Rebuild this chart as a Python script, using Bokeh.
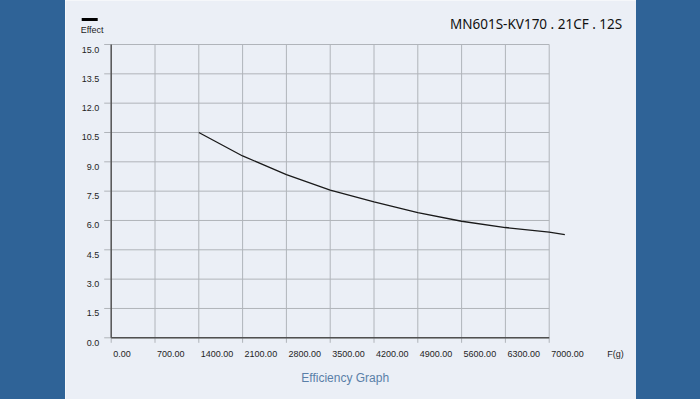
from bokeh.plotting import figure
from bokeh.models import Range1d, Div
from bokeh.layouts import row
from bokeh.embed import file_html
from bokeh.resources import INLINE
from bokeh.core.properties import value

# ---------------- data ----------------
chart_title = "MN601S-KV170 . 21CF . 12S"
y_name = "Effect"
x_name = "F(g)"
caption = "Efficiency Graph"

x_ticks = [0, 700, 1400, 2100, 2800, 3500, 4200, 4900, 5600, 6300, 7000]
x_tick_labels = ["0.00", "700.00", "1400.00", "2100.00", "2800.00", "3500.00",
                 "4200.00", "4900.00", "5600.00", "6300.00", "7000.00"]
y_ticks = [0, 1.5, 3.0, 4.5, 6.0, 7.5, 9.0, 10.5, 12.0, 13.5, 15.0]
y_tick_labels = ["0.0", "1.5", "3.0", "4.5", "6.0", "7.5", "9.0", "10.5",
                 "12.0", "13.5", "15.0"]

thrust = [1400, 2100, 2800, 3500, 4200, 4900, 5600, 6300, 7000, 7250]
effect = [10.50, 9.30, 8.35, 7.55, 6.95, 6.40, 5.96, 5.64, 5.40, 5.28]

# ---------------- layout / style ----------------
BLUE = "#2f6397"
LIGHT = "#ebeff6"
GRID = "#b0b4ba"
AXIS = "#505050"
TXT = "#1e1e1e"
TICK_FONT = value("'Liberation Sans Narrow', 'Liberation Sans', Arial, sans-serif")
TICK_SIZE = "9px"

W, H = 571, 399            # plot panel (between the blue side strips)
LEFT_STRIP, RIGHT_STRIP = 65, 64
X0_PX, Y0_PX = 45.7, 337.3  # pixel position of the data origin in the panel
XSCALE = 43.8 / 700         # px per unit of F(g)
YSCALE = 29.33 / 1.5        # px per unit of Effect
TICK_X = 7 / XSCALE         # left tick length in data units
TICK_Y = 5 / YSCALE         # bottom tick length in data units

x_range = Range1d(-X0_PX / XSCALE, (W - X0_PX) / XSCALE)
y_range = Range1d(-(H - Y0_PX) / YSCALE, Y0_PX / YSCALE)

p = figure(width=W, height=H, x_range=x_range, y_range=y_range,
           output_backend="svg", toolbar_location=None,
           x_axis_location=None, y_axis_location=None,
           min_border=0)
p.background_fill_color = LIGHT
p.border_fill_color = LIGHT
p.outline_line_color = None
p.grid.visible = False

xmin, xmax = x_ticks[0], x_ticks[-1]
ymin, ymax = y_ticks[0], y_ticks[-1]

# grid lines + tick extensions
p.segment(x0=x_ticks, y0=[ymin - TICK_Y] * len(x_ticks),
          x1=x_ticks, y1=[ymax] * len(x_ticks),
          line_color=GRID, line_width=1)
p.segment(x0=[xmin - TICK_X] * len(y_ticks), y0=y_ticks,
          x1=[xmax] * len(y_ticks), y1=y_ticks,
          line_color=GRID, line_width=1)
# axis lines
p.segment(x0=[xmin, xmin], y0=[ymin, ymin], x1=[xmin, xmax], y1=[ymax, ymin],
          line_color=AXIS, line_width=1.4)

# curve
p.line(thrust, effect, line_color="#1a1a1a", line_width=1.3)

# tick labels
p.text(x=x_ticks, y=[ymin] * len(x_ticks), text=x_tick_labels,
       text_align="left", text_baseline="middle", x_offset=2, y_offset=16,
       text_font=TICK_FONT, text_font_size=TICK_SIZE, text_color=TXT)
p.text(x=[xmin] * len(y_ticks), y=y_ticks, text=y_tick_labels,
       text_align="right", text_baseline="middle", x_offset=-12, y_offset=5,
       text_font=TICK_FONT, text_font_size=TICK_SIZE, text_color=TXT)
p.text(x=[xmax], y=[ymin], text=[x_name], text_align="left",
       text_baseline="middle", x_offset=58, y_offset=16,
       text_font=TICK_FONT, text_font_size=TICK_SIZE, text_color=TXT)
p.text(x=[xmin], y=[ymax], text=[y_name], text_align="center",
       text_baseline="middle", x_offset=-19, y_offset=-15,
       text_font=TICK_FONT, text_font_size=TICK_SIZE, text_color=TXT)
# legend key (short black dash above "Effect")
p.rect(x=[xmin - 21.5 / XSCALE], y=[ymax + 25 / YSCALE], width=16, height=3,
       width_units="screen", height_units="screen",
       fill_color="black", line_color=None)

# title and caption
p.text(x=[xmax], y=[ymax], text=[chart_title], text_align="right",
       text_baseline="middle", x_offset=73, y_offset=-21,
       text_font=value("Noto Sans"), text_font_size="13.5px", text_color="#111111")
p.text(x=[x_ticks[5]], y=[ymin], text=[caption], text_align="center",
       text_baseline="middle", x_offset=15, y_offset=40,
       text_font=value("Liberation Sans"), text_font_size="12px",
       text_color="#5a7fa8")

left = Div(text="", width=LEFT_STRIP, height=H, margin=0,
           styles={"background-color": BLUE})
right = Div(text="", width=RIGHT_STRIP, height=H, margin=0,
            styles={"background-color": BLUE})
layout = row(left, p, right, spacing=0)

open("out.html", "w").write(file_html(layout, INLINE))
